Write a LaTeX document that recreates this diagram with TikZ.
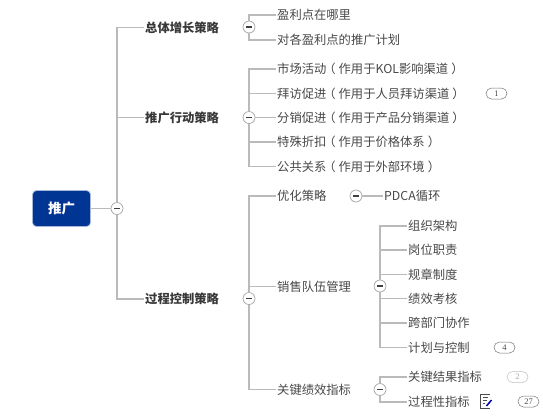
\documentclass[tikz,border=0pt]{standalone}
\usepackage{fontspec}
\setmainfont{Noto Sans CJK SC}
\newfontfamily\pillfont{Liberation Serif}
\usetikzlibrary{calc}
\definecolor{rootc}{RGB}{0,53,148}
\definecolor{linec}{RGB}{186,186,186}
\definecolor{inkc}{RGB}{72,72,72}
\definecolor{headc}{RGB}{56,56,56}
\definecolor{markc}{RGB}{165,165,165}
\tikzset{
  root/.style={
    rectangle, rounded corners=4pt, draw=rootc!35, fill=rootc, line width=0.8pt,
    minimum width=58pt, minimum height=36pt, inner sep=0pt,
    font=\fontsize{13.5}{15}\selectfont\bfseries, text=white
  },
  head/.style={anchor=west, inner xsep=1pt, inner ysep=0pt,
    font=\fontsize{12.3}{14}\selectfont\bfseries, text=headc},
  leaf/.style={anchor=west, inner xsep=1pt, inner ysep=0pt,
    font=\fontsize{12.3}{14}\selectfont, text=inkc},
  collapse/.style={
    circle, draw=markc, fill=white, line width=0.7pt,
    minimum size=12pt, inner sep=0pt,
    path picture={
      \draw[black!75, line width=1.1pt]
        ($(path picture bounding box.center)+(-3pt,0pt)$) --
        ($(path picture bounding box.center)+(3pt,0pt)$);
    }
  },
  pill/.style={
    rectangle, rounded corners=5.5pt, draw=black!55, fill=white, line width=0.5pt,
    minimum width=21pt, minimum height=11pt, inner sep=0pt,
    font=\fontsize{8.5}{9}\selectfont\pillfont, text=inkc
  },
  conn/.style={draw=linec, line width=1.2pt},
  % a note with a pencil on it
  noteicon/.pic={
    \draw[black!70, line width=0.8pt] (5,-7) -- (-5,-7) -- (-5,7) -- (5,7);
    \draw[black!70, line width=0.8pt] (-2.5,-3.5) -- (3,-3.5);
    \draw[black!70, line width=0.8pt] (-2.5,-0.5) -- (2,-0.5);
    \draw[black!70, line width=0.8pt] (-2.5,2.5) -- (0,2.5);
    \draw[blue!70!black, line width=1.5pt] (1.5,5) -- (6.5,-1);
  },
}
\newcommand{\lp}{\kern-3pt（\kern3pt}
\newcommand{\rp}{\kern3pt）\kern-3pt}

\begin{document}
\begin{tikzpicture}[x=1pt, y=-1pt]
  \useasboundingbox (0,0) rectangle (543,416);

  \node[root] (tuiguang) at (61.5,208.5) {推广};
  \node[collapse] (rootcoll) at (117,208.5) {};

  \node[head] (overall) at (144,27.5) {总体增长策略};
  \node[head] (action) at (144,117.5) {推广行动策略};
  \node[head] (control) at (144,299) {过程控制策略};

  \node[collapse] (overallcoll) at (249,27) {};
  \node[collapse] (actioncoll) at (249,117.5) {};
  \node[collapse] (controlcoll) at (249,298.5) {};

  \node[leaf] (profit) at (276,15) {盈利点在哪里};
  \node[leaf] (plan) at (276,40) {对各盈利点的推广计划};

  \node[leaf] (market) at (276,69) {市场活动\lp 作用于KOL影响渠道\rp};
  \node[leaf] (visit) at (276,93.5) {拜访促进\lp 作用于人员拜访渠道\rp};
  \node[leaf] (channel) at (276,117.5) {分销促进\lp 作用于产品分销渠道\rp};
  \node[leaf] (discount) at (276,142) {特殊折扣\lp 作用于价格体系\rp};
  \node[leaf] (public) at (276,166.5) {公共关系\lp 作用于外部环境\rp};

  \node[leaf] (optimize) at (276,196) {优化策略};
  \node[leaf] (sales) at (276,286.5) {销售队伍管理};
  \node[leaf] (kpi) at (276,389.5) {关键绩效指标};

  \node[collapse] (optcoll) at (356,196) {};
  \node[leaf] (pdca) at (383,196) {PDCA循环};

  \node[collapse] (salescoll) at (380,286) {};
  \node[leaf] (org) at (407,226) {组织架构};
  \node[leaf] (duty) at (407,250) {岗位职责};
  \node[leaf] (rules) at (407,274.5) {规章制度};
  \node[leaf] (assess) at (407,298.5) {绩效考核};
  \node[leaf] (cross) at (407,323) {跨部门协作};
  \node[leaf] (ctrl) at (407,347.5) {计划与控制};

  \node[collapse] (kpicoll) at (380,389.5) {};
  \node[leaf] (result) at (407,377) {关键结果指标};
  \node[leaf] (process) at (407,402) {过程性指标};

  \node[pill] (pillone) at (496.5,93.5) {1};
  \node[pill] (pillfour) at (504.5,347.5) {4};
  \node[pill, draw=black!25, text=black!35] (pilltwo) at (517.5,377) {2};
  \node[pill] (pillseven) at (528.5,401.5) {27};
  \pic at (485,401) {noteicon};

  \draw[conn] (tuiguang.east) -- (rootcoll);
  \draw[conn] (rootcoll) |- (overall.west);
  \draw[conn] (rootcoll) |- (action.west);
  \draw[conn] (rootcoll) |- (control.west);

  \draw[conn] (overallcoll) |- (profit.west);
  \draw[conn] (overallcoll) |- (plan.west);

  \draw[conn] (actioncoll) |- (market.west);
  \draw[conn] (actioncoll) |- (visit.west);
  \draw[conn] (actioncoll) -- (channel.west);
  \draw[conn] (actioncoll) |- (discount.west);
  \draw[conn] (actioncoll) |- (public.west);

  \draw[conn] (controlcoll) |- (optimize.west);
  \draw[conn] (controlcoll) |- (sales.west);
  \draw[conn] (controlcoll) |- (kpi.west);

  \draw[conn] (optcoll) -- (pdca.west);

  \draw[conn] (salescoll) |- (org.west);
  \draw[conn] (salescoll) |- (duty.west);
  \draw[conn] (salescoll) |- (rules.west);
  \draw[conn] (salescoll) |- (assess.west);
  \draw[conn] (salescoll) |- (cross.west);
  \draw[conn] (salescoll) |- (ctrl.west);

  \draw[conn] (kpicoll) |- (result.west);
  \draw[conn] (kpicoll) |- (process.west);

\end{tikzpicture}
\end{document}
